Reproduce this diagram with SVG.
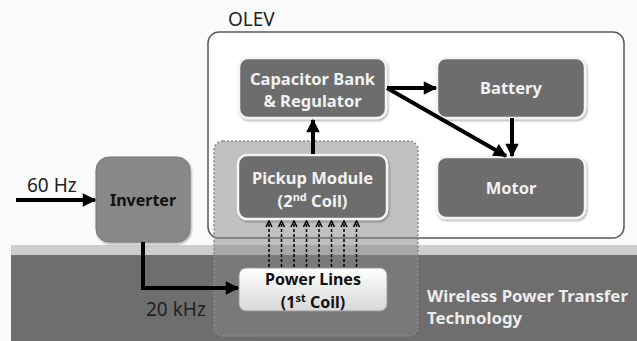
<svg xmlns="http://www.w3.org/2000/svg" width="637" height="341" viewBox="0 0 637 341">
<defs>
<marker id="ah" viewBox="0 0 10 10" refX="9" refY="5" markerWidth="3.6" markerHeight="3.4" orient="auto" markerUnits="strokeWidth">
<path d="M0,0 L10,5 L0,10 Z" fill="#000"/>
</marker>
<marker id="oh" viewBox="0 0 10 10" refX="9" refY="5" markerWidth="5" markerHeight="5" orient="auto" markerUnits="strokeWidth">
<path d="M1,1 L9,5 L1,9" fill="none" stroke="#000" stroke-width="2"/>
</marker>
<linearGradient id="pl" x1="0" y1="0" x2="0" y2="1">
<stop offset="0" stop-color="#ffffff"/>
<stop offset="1" stop-color="#d8d8d8"/>
</linearGradient>
<filter id="sh" x="-10%" y="-10%" width="125%" height="130%">
<feDropShadow dx="1" dy="1.5" stdDeviation="1.2" flood-color="#000" flood-opacity="0.35"/>
</filter>
</defs>
<style>
.box{fill:#6d6d6d;stroke:#f4f4f4;stroke-width:2.5;filter:url(#sh)}
.wt{font-family:"Noto Sans","DejaVu Sans",sans-serif;font-weight:bold;font-size:16.5px;fill:#f2f2f2;text-anchor:middle}
.bt{font-family:"Noto Sans","DejaVu Sans",sans-serif;font-weight:bold;font-size:16px;fill:#111;text-anchor:middle}
.lbl{font-family:"Noto Sans","DejaVu Sans",sans-serif;font-size:19px;fill:#222}
.conn{stroke:#000;stroke-width:4;fill:none}
.dash{stroke:#000;stroke-width:1.5;stroke-dasharray:3 2;fill:none}
</style>
<rect x="0" y="0" width="637" height="341" fill="#fbfbfb"/>
<!-- ground -->
<rect x="11" y="245" width="626" height="10" fill="#cdcdcd"/>
<rect x="11" y="255" width="626" height="86" fill="#6e6e6e"/>

<g id="olev">
<rect x="208" y="32" width="416" height="206" rx="11" fill="#ffffff" stroke="#5a5a5a" stroke-width="1.5"/>
<text x="228" y="26" class="lbl">OLEV</text>
</g>

<g id="wpt-region">
<rect x="214" y="141" width="204" height="195" rx="9" fill="#838383" fill-opacity="0.5" stroke="#8a8a8a" stroke-width="1.5" stroke-dasharray="2 2"/>
</g>

<g id="capacitor">
<rect class="box" x="239" y="58" width="147" height="60" rx="9"/>
<text class="wt" x="312.5" y="85">Capacitor Bank</text>
<text class="wt" x="312.5" y="107">&amp; Regulator</text>
</g>

<g id="battery">
<rect class="box" x="437" y="58" width="148" height="60" rx="9"/>
<text class="wt" x="511" y="94">Battery</text>
</g>

<g id="motor">
<rect class="box" x="437" y="157" width="148" height="61" rx="9"/>
<text class="wt" x="511" y="194">Motor</text>
</g>

<g id="pickup">
<rect class="box" x="238" y="155" width="149" height="64" rx="9"/>
<text class="wt" x="312.5" y="184">Pickup Module</text>
<text class="wt" x="312.5" y="206.5">(2<tspan font-size="11" dy="-6">nd</tspan><tspan dy="6"> Coil)</tspan></text>
</g>

<g id="powerlines">
<rect x="239" y="268" width="148" height="43" rx="7" fill="url(#pl)" stroke="#999" stroke-width="1"/>
<text class="bt" x="313" y="285">Power Lines</text>
<text class="bt" x="313" y="307.5">(1<tspan font-size="11" dy="-6">st</tspan><tspan dy="6"> Coil)</tspan></text>
</g>

<g id="inverter">
<rect x="96" y="157" width="94" height="85" rx="13" fill="#888888" stroke="#777" stroke-width="1" filter="url(#sh)"/>
<text class="bt" x="143" y="206" font-size="16.5">Inverter</text>
</g>

<g id="labels">
<text class="lbl" x="27" y="192">60 Hz</text>
<text class="lbl" x="146" y="316">20 kHz</text>
<text x="427" y="302" font-family="Noto Sans, DejaVu Sans, sans-serif" font-weight="bold" font-size="16.8" fill="#ececec">Wireless Power Transfer</text>
<text x="427" y="324" font-family="Noto Sans, DejaVu Sans, sans-serif" font-weight="bold" font-size="16.8" fill="#ececec">Technology</text>
</g>

<g id="connectors">
<line class="conn" x1="16" y1="200" x2="95" y2="200" marker-end="url(#ah)"/>
<polyline class="conn" points="143,242 143,288 238,288" marker-end="url(#ah)"/>
<line class="conn" x1="313" y1="154" x2="313" y2="120" marker-end="url(#ah)"/>
<line class="conn" x1="387" y1="88" x2="436" y2="88" marker-end="url(#ah)"/>
<line class="conn" x1="387" y1="88" x2="506" y2="156" marker-end="url(#ah)"/>
<line class="conn" x1="512" y1="118" x2="512" y2="156" marker-end="url(#ah)"/>
<line class="dash" x1="269" y1="267" x2="269" y2="221" marker-end="url(#oh)"/>
<line class="dash" x1="281.5" y1="267" x2="281.5" y2="221" marker-end="url(#oh)"/>
<line class="dash" x1="294" y1="267" x2="294" y2="221" marker-end="url(#oh)"/>
<line class="dash" x1="306.5" y1="267" x2="306.5" y2="221" marker-end="url(#oh)"/>
<line class="dash" x1="319" y1="267" x2="319" y2="221" marker-end="url(#oh)"/>
<line class="dash" x1="331.5" y1="267" x2="331.5" y2="221" marker-end="url(#oh)"/>
<line class="dash" x1="344" y1="267" x2="344" y2="221" marker-end="url(#oh)"/>
<line class="dash" x1="356.5" y1="267" x2="356.5" y2="221" marker-end="url(#oh)"/>
</g>
</svg>
